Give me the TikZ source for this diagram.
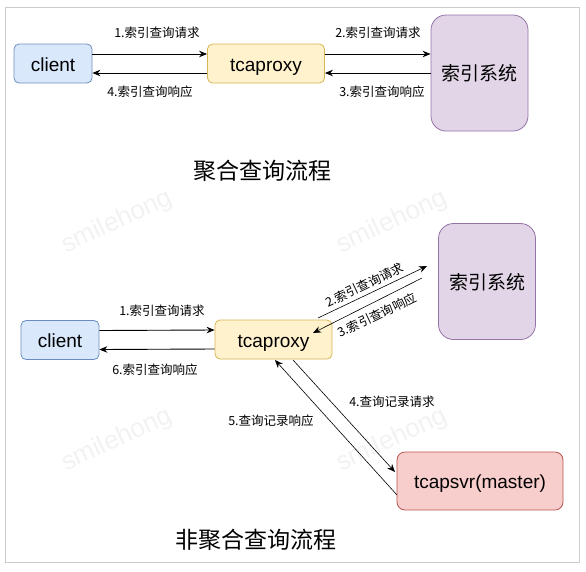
\documentclass[tikz,border=0pt]{standalone}
\usepackage{fontspec}
\setmainfont{Liberation Sans}
\newfontfamily\cjk{Noto Sans CJK SC}
\usetikzlibrary{arrows.meta}

\definecolor{bluefill}{HTML}{DAE8FC}
\definecolor{bluedraw}{HTML}{6C8EBF}
\definecolor{yellowfill}{HTML}{FFF2CC}
\definecolor{yellowdraw}{HTML}{D6B656}
\definecolor{purplefill}{HTML}{E1D5E7}
\definecolor{purpledraw}{HTML}{9673A6}
\definecolor{redfill}{HTML}{F8CECC}
\definecolor{reddraw}{HTML}{B85450}

\begin{document}
\begin{tikzpicture}[x=1pt, y=-1pt,
    box/.style={draw, rounded corners=5pt, line width=0.8pt, inner sep=0pt,
        text height=15pt, text depth=0pt, font=\fontsize{19}{21}\selectfont},
    clientbox/.style={box, fill=bluefill, draw=bluedraw, minimum width=78pt, minimum height=39pt},
    proxybox/.style={box, fill=yellowfill, draw=yellowdraw, minimum width=117pt, minimum height=39pt},
    indexbox/.style={box, fill=purplefill, draw=purpledraw, rounded corners=15pt,
        minimum width=97pt, minimum height=116pt, font=\cjk\fontsize{19}{21}\selectfont},
    svrbox/.style={box, fill=redfill, draw=reddraw, rounded corners=8pt, minimum width=166pt, minimum height=58pt},
    lbl/.style={inner sep=0pt, font=\cjk\fontsize{12.5}{14}\selectfont},
    title/.style={inner sep=0pt, font=\cjk\fontsize{23}{25}\selectfont},
    wmark/.style={inner sep=0pt, rotate=25, text=black!5, font=\fontsize{26}{28}\selectfont},
    msg/.style={-{Stealth[length=8pt,width=6.5pt]}, line width=0.9pt},
    thinmsg/.style={-{Stealth[length=8pt,width=6.5pt]}, line width=0.6pt}]
    \useasboundingbox (0,0) rectangle (586,571);
    \draw[black!20, line width=1pt] (5,7) rectangle (579,562);

    % watermark
    \foreach \wx/\wy [count=\k] in {117/222, 392/222, 117/440, 392/440} {
        \node[wmark] (wm\k) at (\wx,\wy) {smilehong};
    }

    % aggregated query
    \node[clientbox] (cli1) at (53,63.5) {client};
    \node[proxybox] (prx1) at (266,63.5) {tcaproxy};
    \node[indexbox] (idx1) at (479.5,73) {索引系统};

    \draw[msg] ([yshift=9.5pt]cli1.east) -- ([yshift=9.5pt]prx1.west);
    \draw[msg] ([yshift=-9.5pt]prx1.west) -- ([yshift=-9.5pt]cli1.east);
    \draw[msg] ([yshift=9.5pt]prx1.east) -- ([yshift=9.5pt]prx1.east -| idx1.west);
    \draw[msg] ([yshift=-9.5pt]prx1.east -| idx1.west) -- ([yshift=-9.5pt]prx1.east);

    \node[lbl] (l11) at (157,33) {1.索引查询请求};
    \node[lbl] (l14) at (150,92) {4.索引查询响应};
    \node[lbl] (l12) at (378,33) {2.索引查询请求};
    \node[lbl] (l13) at (382,92) {3.索引查询响应};

    \node[title] (t1) at (262,171) {聚合查询流程};

    % non-aggregated query
    \node[clientbox] (cli2) at (60,340) {client};
    \node[proxybox] (prx2) at (273.5,339.5) {tcaproxy};
    \node[indexbox] (idx2) at (487,281.5) {索引系统};
    \node[svrbox] (svr) at (480,481) {tcapsvr(master)};

    \draw[msg] ([yshift=9.5pt]cli2.east) -- ([yshift=9.5pt]prx2.west);
    \draw[msg] ([yshift=-9.5pt]prx2.west) -- ([yshift=-9.5pt]cli2.east);

    \coordinate (reqa) at (318,318);
    \coordinate (reqb) at (427,266);
    \coordinate (resa) at (422,278);
    \coordinate (resb) at (313,333);
    \draw[thinmsg] (reqa) -- (reqb);
    \draw[thinmsg] (resa) -- (resb);

    \coordinate (qa) at (293,360);
    \coordinate (qb) at (395,472);
    \coordinate (ra) at (397,495);
    \coordinate (rb) at (275,360);
    \draw[thinmsg] (qa) -- (qb);
    \draw[thinmsg] (ra) -- (rb);

    \node[lbl] (l21) at (162,311) {1.索引查询请求};
    \node[lbl] (l26) at (155,370) {6.索引查询响应};
    \node[lbl, rotate=25.5] (l22) at (364.5,285) {2.索引查询请求};
    \node[lbl, rotate=25.5] (l23) at (377,315) {3.索引查询响应};
    \node[lbl] (l24) at (392,402) {4.查询记录请求};
    \node[lbl] (l25) at (271,421) {5.查询记录响应};

    \node[title] (t2) at (256,540) {非聚合查询流程};
\end{tikzpicture}
\end{document}
